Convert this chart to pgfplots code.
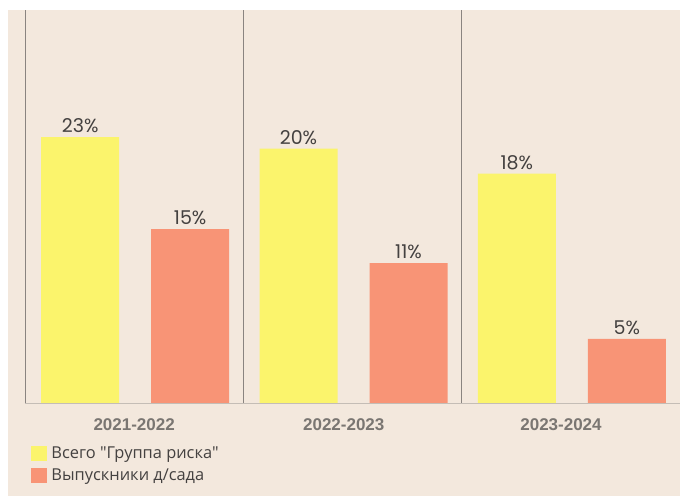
\documentclass[border=0pt]{standalone}
\usepackage{pgfplots}
\pgfplotsset{compat=1.18}
\usepackage{fontspec}
\setmainfont{Open Sans}[Ligatures=TeXOff]
\newfontfamily\numfont{Poppins}
\newfontfamily\catfont{Liberation Sans}

\definecolor{bg}{HTML}{F3E8DD}
\definecolor{yel}{HTML}{FBF46C}
\definecolor{sal}{HTML}{F89476}
\definecolor{sep}{HTML}{8A8480}
\definecolor{base}{HTML}{C4BDB6}
\definecolor{cat}{HTML}{7A7672}
\definecolor{txt}{HTML}{444140}

\begin{document}
\begin{tikzpicture}
\fill[white] (0pt,0pt) rectangle (680pt,497pt);
\fill[bg] (8pt,1pt) rectangle (680pt,487pt);
\begin{axis}[
    at={(25pt,94pt)}, anchor=south west,
    scale only axis, width=655pt, height=393pt,
    xmin=-0.5, xmax=2.5, ymin=0, ymax=31.2,
    ybar, bar width=78pt,
    axis line style={draw=none},
    tick style={draw=none},
    ytick=\empty,
    xtick={0,0.96,1.955},
    xticklabels={2021-2022,2022-2023,2023-2024},
    xticklabel style={font=\catfont\bfseries\fontsize{17}{20}\selectfont, text=cat, yshift=-8pt},
    minor xtick={-0.5,0.5,1.5},
    xminorgrids=true,
    minor grid style={sep, line width=0.8pt},
    nodes near coords,
    point meta=explicit symbolic,
    every node near coord/.append style={font=\numfont\fontsize{19}{22}\selectfont, text=txt, inner sep=2pt, yshift=2pt},
    legend style={at={(rel axis cs:0.0095,-0.106)}, anchor=north west, draw=none, fill=none,
      font=\fontsize{16.4}{19}\selectfont, text=txt, inner sep=0pt,
      row sep=5pt},
    legend cell align=left,
    legend image code/.code={\fill[#1] (0pt,-7.5pt) rectangle (16pt,7.5pt);},
    clip=false,
]
\addplot[fill=yel, draw=none, bar shift=-54pt] table[meta=label] {
x y label
0 21.1 23\%
1 20.2 20\%
2 18.2 18\%
};
\addplot[fill=sal, draw=none, bar shift=56pt] table[meta=label] {
x y label
0 13.8 15\%
1 11.1 11\%
2 5.1 5\%
};
\legend{\hspace{2pt}Всего "Группа риска", \hspace{2pt}Выпускники д/сада}
\draw[base, line width=0.8pt] (axis cs:-0.5,0) -- (axis cs:2.5,0);
\end{axis}
\pgfresetboundingbox
\path (0pt,0pt) rectangle (680pt,497pt);
\end{tikzpicture}
\end{document}
